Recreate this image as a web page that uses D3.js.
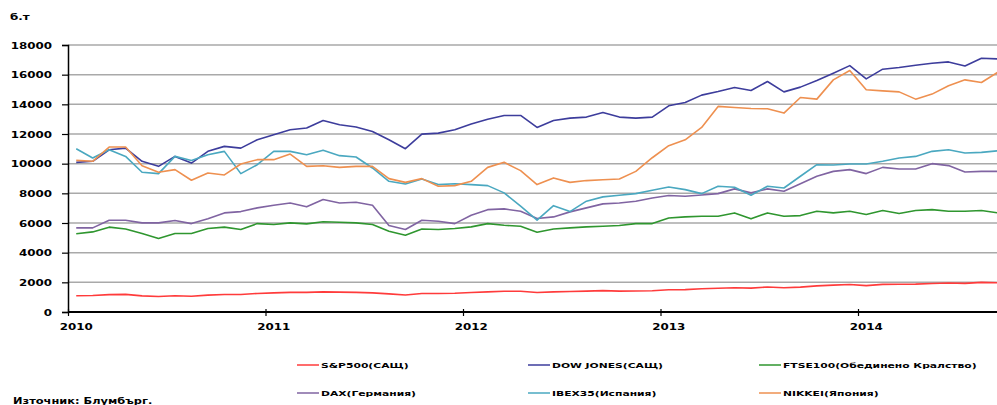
<!DOCTYPE html>
<html>
<head>
<meta charset="utf-8">
<script src="https://cdn.jsdelivr.net/npm/d3@7"></script>
<style>
  body { margin: 0; background: #fff; }
  text { font-family: "DejaVu Sans", sans-serif; font-weight: bold; fill: #000; }
</style>
</head>
<body>
<div class="graph"></div>
<script>
// monthly values, Jan 2010 - Sep 2014

var years = ["2010", "2011", "2012", "2013", "2014"];
var yTicks = [0, 2000, 4000, 6000, 8000, 10000, 12000, 14000, 16000, 18000];

var sp500 = [1100, 1110, 1170, 1190, 1090, 1050, 1100, 1060, 1140, 1180, 1180, 1250,
  1290, 1320, 1320, 1360, 1340, 1320, 1290, 1220, 1150, 1250, 1250, 1260,
  1310, 1360, 1400, 1400, 1310, 1360, 1380, 1410, 1440, 1410, 1420, 1430,
  1500, 1510, 1570, 1600, 1630, 1610, 1690, 1630, 1680, 1760, 1810, 1850,
  1780, 1860, 1870, 1880, 1920, 1960, 1930, 2000, 1970];
var dowJones = [10090, 10160, 10940, 11050, 10160, 9820, 10490, 10040, 10830, 11165, 11050, 11610,
  11950, 12290, 12400, 12910, 12620, 12470, 12170, 11610, 11010, 11990, 12060, 12290,
  12670, 13000, 13250, 13250, 12440, 12910, 13070, 13140, 13450, 13140, 13070, 13140,
  13900, 14120, 14620, 14860, 15130, 14930, 15540, 14840, 15160, 15600, 16100, 16610,
  15720, 16370, 16480, 16640, 16770, 16860, 16590, 17110, 17060];
var ftse100 = [5270, 5400, 5720, 5600, 5290, 4960, 5290, 5290, 5630, 5720, 5560, 5960,
  5900, 6010, 5940, 6080, 6050, 6010, 5900, 5450, 5180, 5600, 5560, 5630,
  5740, 5960, 5850, 5780, 5380, 5600, 5670, 5740, 5780, 5830, 5960, 5960,
  6340, 6410, 6460, 6460, 6680, 6280, 6680, 6460, 6500, 6790, 6680, 6790,
  6570, 6840, 6640, 6840, 6900, 6790, 6790, 6840, 6680];
var dax = [5670, 5670, 6190, 6190, 6010, 6010, 6170, 5960, 6280, 6680, 6770, 7020,
  7200, 7350, 7090, 7580, 7350, 7400, 7200, 5830, 5560, 6190, 6120, 5960,
  6520, 6900, 6950, 6790, 6300, 6410, 6750, 7020, 7290, 7350, 7470, 7690,
  7850, 7800, 7890, 7980, 8300, 8030, 8300, 8140, 8650, 9150, 9480, 9600,
  9330, 9750, 9640, 9640, 10000, 9870, 9440, 9480, 9480];
var ibex35 = [11010, 10380, 10940, 10490, 9420, 9330, 10490, 10220, 10600, 10830, 9330, 9930,
  10830, 10830, 10600, 10900, 10540, 10450, 9710, 8810, 8630, 8970, 8590, 8650,
  8590, 8520, 8030, 7130, 6190, 7170, 6770, 7470, 7760, 7870, 7980, 8210,
  8430, 8250, 7980, 8480, 8410, 7870, 8480, 8360, 9150, 9930, 9910, 9980,
  9980, 10160, 10380, 10490, 10830, 10940, 10720, 10760, 10870];
var nikkei = [10220, 10160, 11120, 11120, 9860, 9420, 9600, 8880, 9370, 9240, 9980, 10270,
  10270, 10650, 9820, 9860, 9750, 9820, 9820, 8990, 8740, 8990, 8480, 8520,
  8810, 9750, 10090, 9530, 8590, 9040, 8740, 8860, 8920, 8970, 9480, 10400,
  11210, 11610, 12440, 13860, 13790, 13720, 13700, 13410, 14460, 14350, 15650, 16280,
  14980, 14910, 14840, 14350, 14690, 15250, 15650, 15470, 16170];

var seriesNames = ["S&P500(САЩ)", "DOW JONES(САЩ)", "FTSE100(Обединено Кралство)",
  "DAX(Германия)", "IBEX35(Испания)", "NIKKEI(Япония)"];
var seriesData = [sp500, dowJones, ftse100, dax, ibex35, nikkei];
var seriesColors = ["#ff3b3b", "#3d3d9c", "#2f962f", "#8064a2", "#4aa8c0", "#ee9050"];

var width = 997, height = 405;

let svg = d3.select(".graph").append("svg")
    .attr("width", width)
    .attr("height", height)
    .style("display", "block");

// month index -> x ; a point sits in the middle of its month
let x = d3.scaleLinear().domain([0, 12]).range([68, 265.5]);
let y = d3.scaleLinear().domain([0, 18000]).range([312, 45]);

// stretched bold text, like the original picture
function label(g, tx, ty, str, size, sx, anchor) {
  return g.append("text")
    .attr("transform", "translate(" + tx + "," + ty + ") scale(" + sx + ",1)")
    .attr("text-anchor", anchor || "start")
    .style("font-size", size + "px")
    .text(str);
}

// gridlines
svg.append("g").selectAll("line")
    .data(yTicks.filter(d => d > 0))
    .join("line")
    .attr("x1", x(0)).attr("x2", width)
    .attr("y1", d => y(d)).attr("y2", d => y(d))
    .attr("stroke", "#a9a9a9")
    .attr("stroke-width", 1.5);

// y axis
let yAxis = svg.append("g").attr("transform", "translate(" + x(0) + ",0)")
    .call(d3.axisLeft(y).tickValues(yTicks).tickSize(6).tickFormat(""));
yAxis.select(".domain").attr("stroke", "#000").attr("stroke-width", 1.5);
yAxis.selectAll(".tick line").attr("stroke", "#000").attr("stroke-width", 1.2);
yTicks.forEach(function(d) {
  label(svg, 52, y(d) + 3.5, d, 9.5, 1.25, "end");
});

// x axis
let xAxis = svg.append("g").attr("transform", "translate(0," + y(0) + ")")
    .call(d3.axisBottom(x).tickValues(d3.range(0, 60, 12)).tickSize(4).tickSizeOuter(0).tickFormat(""));
xAxis.select(".domain").attr("stroke", "#000").attr("stroke-width", 1.8)
    .attr("d", "M" + x(0) + ",0H" + width);
xAxis.selectAll(".tick line").attr("stroke", "#000").attr("stroke-width", 1.2).attr("y1", -3);
years.forEach(function(yr, i) {
  label(svg, x(i * 12 + 0.5), 330, yr, 9.5, 1.25, "middle");
});

label(svg, 10, 20, "б.т", 9.5, 1.25);

// series lines
let line = d3.line()
    .x((d, i) => x(i + 0.5))
    .y(d => y(d));

svg.append("g").selectAll("path")
    .data(seriesData)
    .join("path")
    .attr("d", line)
    .attr("fill", "none")
    .attr("stroke", (d, i) => seriesColors[i])
    .attr("stroke-width", 1.6)
    .attr("stroke-linejoin", "round");

// legend, 3 columns x 2 rows
var legX = [297, 528, 759], legY = [365, 393];
let legend = svg.append("g");
seriesNames.forEach(function(name, i) {
  let lx = legX[i % 3], ly = legY[Math.floor(i / 3)];
  legend.append("line")
      .attr("x1", lx).attr("x2", lx + 22)
      .attr("y1", ly).attr("y2", ly)
      .attr("stroke", seriesColors[i])
      .attr("stroke-width", 1.5);
  label(legend, lx + 24, ly + 3, name, 7.8, 1.38);
});

label(svg, 13, 404, "Източник: Блумбърг.", 9.5, 1.2);
</script>
</body>
</html>
